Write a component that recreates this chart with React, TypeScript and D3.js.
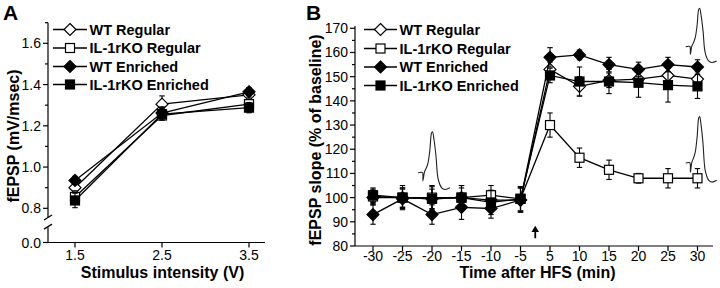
import React from "react";
import * as d3 from "d3";

// ---------- data ----------
const seriesNames = ["WT Regular", "IL-1rKO Regular", "WT Enriched", "IL-1rKO Enriched"];
const markerKinds = ["diamondOpen", "squareOpen", "diamondFilled", "squareFilled"];

// Panel A
const intensities = [1.5, 2.5, 3.5];
const aWTRegular = [0.9, 1.305, 1.35];
const aKORegular = [0.855, 1.25, 1.305];
const aWTEnriched = [0.935, 1.262, 1.365];
const aKOEnriched = [0.838, 1.257, 1.288];
const aWTRegularErr = [0.03, 0.04, 0.03];
const aKORegularErr = [0.03, 0.02, 0.03];
const aWTEnrichedErr = [0.02, 0.03, 0.02];
const aKOEnrichedErr = [0.035, 0.03, 0.025];
const aYTicks = [0.8, 1.0, 1.2, 1.4, 1.6];
const aYMinor = [0.9, 1.1, 1.3, 1.5, 1.7];
const aXTicks = [1.5, 2.5, 3.5];

// Panel B
const timeLabels = ["-30", "-25", "-20", "-15", "-10", "-5", "5", "10", "15", "20", "25", "30"];
const bWTRegular = [100, 100, 99.5, 100, 99, 99, 153, 146, 148.5, 149, 150.5, 149];
const bKORegular = [100.5, 100, 100, 100, 101, 99.5, 130, 116.5, 111.5, 108, 108, 108];
const bWTEnriched = [93, 99.5, 93, 96, 95.5, 99, 158, 159, 155, 153, 155, 154];
const bKOEnriched = [101, 100, 99.5, 100, 98, 99.5, 150.5, 148, 148, 147.5, 146.5, 146];
const bWTRegularErr = [3, 5, 5, 5, 4, 5, 3, 4, 3, 3, 3, 3];
const bKORegularErr = [3, 4, 5, 5, 4, 5, 5, 4, 4, 2, 4, 4];
const bWTEnrichedErr = [4, 4, 4, 5, 4, 5, 4, 2, 3, 3, 3, 3];
const bKOEnrichedErr = [3, 4, 4, 4, 5, 5, 3, 6, 5, 6, 7, 5];
const bYTicks = [80, 90, 100, 110, 120, 130, 140, 150, 160, 170];
const bYMinor = [85, 95, 105, 115, 125, 135, 145, 155, 165];

// fEPSP waveform inset shape: [fraction of width, fraction of peak amplitude]
const waveShape: [number, number][] = [
  [0, 0], [0.1, 0.01], [0.14, 0.0], [0.15, -0.2], [0.2, 0.02], [0.26, 0.12], [0.31, 0.24],
  [0.37, 0.57], [0.42, 0.97], [0.45, 1.0], [0.5, 0.8], [0.56, 0.41], [0.63, -0.16],
  [0.74, -0.37], [0.84, -0.41], [1.0, -0.37],
];
// insets: start index, end index, baseline value, peak value
const waveStart = [1.53, 10.6, 10.6];
const waveEnd = [2.61, 11.65, 11.65];
const waveBase = [110.3, 162.4, 114.3];
const wavePeak = [127.2, 178.3, 133.5];

const FONT = "'Liberation Sans', Arial, Helvetica, sans-serif";

function Marker({ kind, x, y }: { kind: string; x: number; y: number }) {
  const filled = kind.endsWith("Filled");
  const fill = filled ? "#000" : "#fff";
  if (kind.startsWith("diamond")) {
    const r = 6;
    return (
      <path
        d={`M${x},${y - r}L${x + r},${y}L${x},${y + r}L${x - r},${y}Z`}
        fill={fill}
        stroke="#000"
        strokeWidth={1.2}
      />
    );
  }
  const s = 4.5;
  return <rect x={x - s} y={y - s} width={2 * s} height={2 * s} fill={fill} stroke="#000" strokeWidth={1.2} />;
}

function Series({
  xs, ys, errs, kind, xScale, yScale,
}: {
  xs: number[]; ys: number[]; errs: number[]; kind: string;
  xScale: (v: number) => number; yScale: (v: number) => number;
}) {
  const line = d3.line<number>().x((_, i) => xScale(xs[i])).y((d) => yScale(d));
  return (
    <g>
      <path d={line(ys) || ""} fill="none" stroke="#000" strokeWidth={1.3} />
      {ys.map((v, i) => {
        const x = xScale(xs[i]);
        const y1 = yScale(v + errs[i]);
        const y2 = yScale(v - errs[i]);
        return (
          <g key={"e" + i} stroke="#000" strokeWidth={1.1}>
            <line x1={x} x2={x} y1={y1} y2={y2} />
            <line x1={x - 2.7} x2={x + 2.7} y1={y1} y2={y1} />
            <line x1={x - 2.7} x2={x + 2.7} y1={y2} y2={y2} />
          </g>
        );
      })}
      {ys.map((v, i) => (
        <Marker key={"m" + i} kind={kind} x={xScale(xs[i])} y={yScale(v)} />
      ))}
    </g>
  );
}

function Legend({ x0, x1, ys }: { x0: number; x1: number; ys: number[] }) {
  const mx = (x0 + x1) / 2;
  return (
    <g>
      {seriesNames.map((name, i) => (
        <g key={name}>
          <line x1={x0} x2={x1} y1={ys[i]} y2={ys[i]} stroke="#000" strokeWidth={1.3} />
          <Marker kind={markerKinds[i]} x={mx} y={ys[i]} />
          <text x={x1 + 2.5} y={ys[i] + 5} fontFamily={FONT} fontWeight="bold" fontSize={14.5} fill="#000">
            {name}
          </text>
        </g>
      ))}
    </g>
  );
}

export default function App() {
  // Panel A scales
  const xA = d3.scaleLinear().domain([1.5, 3.5]).range([75, 249]);
  const yA = d3.scaleLinear().domain([0.8, 1.6]).range([208.3, 43.3]);
  const yA0 = d3.scaleLinear().domain([0, 0.1]).range([242.5, 222]);
  const axA = { left: 48, right: 265, bottom: yA0(0), top: yA(1.7) };

  // Panel B scales
  const xB = d3.scaleLinear().domain([0, 11]).range([373, 697.5]);
  const yB = d3.scaleLinear().domain([80, 170]).range([246, 28.3]);
  const axB = { left: 355, right: 713, bottom: yB(80), top: yB(171) };
  const idx = timeLabels.map((_, i) => i);

  const aSeries = [
    [aWTRegular, aWTRegularErr],
    [aKORegular, aKORegularErr],
    [aWTEnriched, aWTEnrichedErr],
    [aKOEnriched, aKOEnrichedErr],
  ];
  const bSeries = [
    [bWTRegular, bWTRegularErr],
    [bKORegular, bKORegularErr],
    [bWTEnriched, bWTEnrichedErr],
    [bKOEnriched, bKOEnrichedErr],
  ];

  const waveLine = d3.line<[number, number]>().curve(d3.curveCatmullRom.alpha(0.5));

  const tickFont = { fontFamily: FONT, fontSize: 14, fill: "#000" };
  const titleFont = { fontFamily: FONT, fontSize: 16, fontWeight: "bold" as const, fill: "#000" };
  const ax = xB(5.5);

  return (
    <svg
      width={720}
      height={288}
      viewBox="0 0 720 288"
      style={{ position: "fixed", left: 0, top: 0, background: "#fff" }}
    >
      <rect width={720} height={288} fill="#fff" />

      {/* Panel letters */}
      <text x={3} y={19.5} fontFamily={FONT} fontWeight="bold" fontSize={21}>A</text>
      <text x={306} y={19.5} fontFamily={FONT} fontWeight="bold" fontSize={21}>B</text>

      {/* ---------- Panel A axes ---------- */}
      <g stroke="#000" strokeWidth={1.2} fill="none">
        <line x1={axA.left} x2={axA.left} y1={axA.bottom} y2={yA0(0.075)} />
        <line x1={axA.left} x2={axA.left} y1={yA(0.755)} y2={axA.top} />
        <line x1={axA.left - 4} x2={axA.left + 4} y1={yA0(0.075) + 2} y2={yA0(0.075) - 3} />
        <line x1={axA.left - 4} x2={axA.left + 4} y1={yA(0.755) + 2.5} y2={yA(0.755) - 2.5} />
        <line x1={axA.left} x2={axA.right} y1={axA.bottom} y2={axA.bottom} />
        {aYTicks.map((t) => (
          <line key={t} x1={axA.left - 5} x2={axA.left} y1={yA(t)} y2={yA(t)} />
        ))}
        <line x1={axA.left - 5} x2={axA.left} y1={yA0(0)} y2={yA0(0)} />
        {aYMinor.map((t) => (
          <line key={t} x1={axA.left - 3} x2={axA.left} y1={yA(t)} y2={yA(t)} />
        ))}
        {aXTicks.map((t) => (
          <line key={t} x1={xA(t)} x2={xA(t)} y1={axA.bottom} y2={axA.bottom + 5} />
        ))}
      </g>
      {aYTicks.map((t) => (
        <text key={t} x={axA.left - 7} y={yA(t) + 5} textAnchor="end" {...tickFont}>
          {t.toFixed(1)}
        </text>
      ))}
      <text x={axA.left - 7} y={yA0(0) + 5} textAnchor="end" {...tickFont}>0.0</text>
      {aXTicks.map((t) => (
        <text key={t} x={xA(t)} y={260} textAnchor="middle" {...tickFont}>
          {t.toFixed(1)}
        </text>
      ))}
      <text x={162.5} y={278} textAnchor="middle" {...titleFont}>Stimulus intensity (V)</text>
      <text transform={`translate(19,136) rotate(-90)`} textAnchor="middle" {...titleFont}>
        fEPSP (mV/msec)
      </text>

      {aSeries.map(([vals, errs], i) => (
        <Series key={i} xs={intensities} ys={vals} errs={errs} kind={markerKinds[i]} xScale={xA} yScale={yA} />
      ))}
      <Legend x0={53} x1={87} ys={[29.5, 48, 66.5, 84.5]} />

      {/* ---------- Panel B axes ---------- */}
      <g stroke="#000" strokeWidth={1.2} fill="none">
        <line x1={axB.left} x2={axB.left} y1={axB.bottom} y2={axB.top} />
        <line x1={axB.left} x2={axB.right} y1={axB.bottom} y2={axB.bottom} />
        {bYTicks.map((t) => (
          <line key={t} x1={axB.left - 5} x2={axB.left} y1={yB(t)} y2={yB(t)} />
        ))}
        {bYMinor.map((t) => (
          <line key={t} x1={axB.left - 3} x2={axB.left} y1={yB(t)} y2={yB(t)} />
        ))}
        {idx.map((i) => (
          <line key={i} x1={xB(i)} x2={xB(i)} y1={axB.bottom} y2={axB.bottom + 5} />
        ))}
      </g>
      {bYTicks.map((t) => (
        <text key={t} x={axB.left - 7} y={yB(t) + 5} textAnchor="end" {...tickFont}>
          {t}
        </text>
      ))}
      {timeLabels.map((l, i) => (
        <text key={l} x={xB(i)} y={261} textAnchor="middle" {...tickFont}>
          {l}
        </text>
      ))}
      <text x={537.5} y={278} textAnchor="middle" {...titleFont}>Time after HFS (min)</text>
      <text transform={`translate(320.5,140) rotate(-90)`} textAnchor="middle" {...titleFont}>
        fEPSP slope (% of baseline)
      </text>

      {/* waveform insets */}
      {waveStart.map((s, k) => {
        const xs0 = xB(s);
        const xs1 = xB(waveEnd[k]);
        const yb = yB(waveBase[k]);
        const amp = yB(wavePeak[k]) - yb;
        const pts = waveShape.map(([t, v]) => [xs0 + t * (xs1 - xs0), yb + v * amp] as [number, number]);
        return <path key={k} d={waveLine(pts) || ""} fill="none" stroke="#222" strokeWidth={1.1} />;
      })}

      {bSeries.map(([vals, errs], i) => (
        <Series key={i} xs={idx} ys={vals} errs={errs} kind={markerKinds[i]} xScale={xB} yScale={yB} />
      ))}

      {/* HFS arrow */}
      <g>
        <line x1={ax} x2={ax} y1={yB(83.2)} y2={yB(86.5)} stroke="#000" strokeWidth={1.8} />
        <path d={`M${ax},${yB(88.4)}L${ax + 3.8},${yB(85.8)}L${ax - 3.8},${yB(85.8)}Z`} fill="#000" />
      </g>

      <Legend x0={364} x1={397} ys={[29.5, 48.5, 67, 85.5]} />
    </svg>
  );
}
